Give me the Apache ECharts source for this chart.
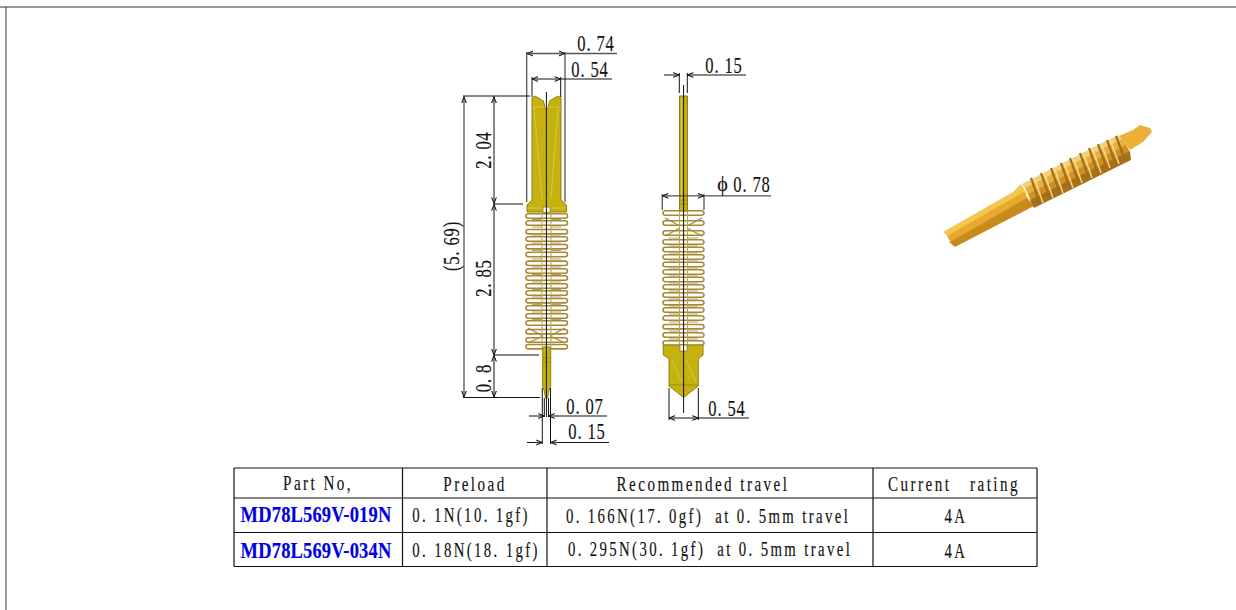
<!DOCTYPE html>
<html><head><meta charset="utf-8">
<style>
html,body{margin:0;padding:0;background:#fff;overflow:hidden}
#c{width:1236px;height:610px}
svg text{letter-spacing:2.6px}
svg text[style*="23px"]{letter-spacing:1.2px}
svg text[style*="21px"]{letter-spacing:3.4px}
svg text[style*="20px"]{letter-spacing:3.2px}
svg text[style*="bold"]{letter-spacing:.2px}
</style>
<script src="https://cdn.jsdelivr.net/npm/echarts@6/dist/echarts.min.js"></script>
</head><body><div id="c"></div>
<script>
// Drawing values, in picture units.
const frameLines=[[[0,7],[1236,7]],[[6,7],[6,610]]];
const tableColumns=[234,402.5,547,873,1037];
const tableRows=[468,498,532.5,566.5];
const tableHeader=['Part\u00a0No,','Preload','Recommended travel','Current\u00a0\u00a0\u00a0rating'];
const partNumbers=['MD78L569V-019N','MD78L569V-034N'];
const preloads=['0. 1N(10. 1gf)','0. 18N(18. 1gf)'];
const travels=['0. 166N(17. 0gf)\u00a0\u00a0at 0. 5mm travel','0. 295N(30. 1gf)\u00a0\u00a0at 0. 5mm travel'];
const ratings=['4A','4A'];
const dimBlack=[
 [[532,77],[532,97]],[[560.7,77],[560.7,97]],[[532,79],[612,79]],
 [[494,96],[494,397]],[[463,96],[530,96]],[[494,204],[523,204]],[[494,355],[539,355]],[[463,397.5],[540,397.5]],
 [[544.3,398],[544.3,417]],[[548.5,398],[548.5,417]],[[529,416],[544,416]],[[548.5,416],[607,416]],
 [[542.3,388],[542.3,444]],[[550.5,388],[550.5,444]],[[527,442.5],[542,442.5]],[[550.5,442.5],[609,442.5]],
 [[546.4,92],[546.4,417]],
 [[664,75],[679.3,75]],[[687.3,75],[746,75]],[[679.3,73],[679.3,93]],[[687.3,73],[687.3,93]],
 [[683.6,85],[683.6,413]],
 [[669,388],[669,420]],[[698.3,388],[698.3,420]],[[669,418],[749,418]]
];
const dimGray=[
 [[526.7,52],[526.7,202]],[[565,52],[565,202]],[[527,53.5],[617,53.5]],
 [[464,96],[464,397]],
 [[662.3,194],[662.3,210]],[[704,194],[704,210]],[[662,195.8],[771,195.8]]
];
const arrows=[
 [527,53.5,1],[565,53.5,-1],[532,79,1],[560.7,79,-1],
 [464,97,2],[464,397,-2],[494,97,2],[494,203.5,-2],[494,204.5,2],[494,355,-2],[494,355.5,2],[494,397,-2],
 [544.3,416,-1],[548.5,416,1],[542.3,442.5,-1],[550.5,442.5,1],
 [679.3,75,-1],[687.3,75,1],[662.3,195.8,1],[704,195.8,-1],[669,418,1],[698.3,418,-1]
];
const goldBodies=[
 [[532,98],[535,96],[543.5,101],[545,108],[546.5,109.5],[548,108],[549.5,101],[558,96],[561,98],[561,200],[566.5,205],[566.5,212],[527,212],[527,205],[532,200]],
 [[542.7,347],[550.7,347],[550.7,386],[548.5,392],[547.5,398],[545.5,398],[544.5,392],[542.7,386]],
 [[679.5,96],[687.5,96],[687.5,211],[679.5,211]],
 [[663.3,345],[703,345],[703,355],[698.3,358.5],[698.3,386],[683.6,397.5],[669,386],[669,358.5],[663.3,355]]
];
const goldNotches=[[[543,212.5],[543,207],[550,207],[550,212.5]],[[680,345],[680,351],[687,351],[687,345]]];
const goldDetailLines=[
 [[542.7,358],[550.7,358]],[[542.7,362],[550.7,362]],[[669,385],[698.3,385]],[[679.5,200],[687.5,200]],[[679.5,204],[687.5,204]]
];
const goldHighlights=[
 [[532.5,107],[561,107]],[[528,208],[542,208]],[[551,208],[566,208]],
 [[534,108],[542,198]],[[558,108],[551,198]],[[672,360],[682,382]],[[686,360],[696,382]],[[681.5,98],[681.5,200]]
];
const leftCoilRows=[216,223,231.7,239,246.7,254.5,263.3,271,278,286,293,300.7,308,316,323,331.7,340,346.7];
const rightCoilRows=[213,223,233,242,249.5,257,264.5,272,279.5,287,295,302.7,310,318,326.7,335,343];
const leftCoilX=[526,567.5];
const rightCoilX=[663,704];
const leftRungRows=[219.5,227,235,243,250.5,259,267,274.5,282,289.5,297,304.5,312,319.5];
const rightRungRows=[238,246,253,261,268,276,283,291,299,306,314,322,331,339];
const coilDiagonals=[
 [[528,328],[543,336]],[[550,336],[565,328]],
 [[528,343],[543,336]],[[550,336],[565,343]],
 [[665,218],[680,226]],[[687,226],[702,218]],
 [[665,236],[680,228]],[[687,228],[702,236]]
];
const coilShaftLines=[
 [[542,213],[542,347]],[[551,213],[551,347]],[[679.5,211],[679.5,345]],[[687.5,211],[687.5,345]]
];
const photoShaftBands=[
 [[943,232],[1013,192],[1021,184],[1027,194],[950,238]],
 [[947,236],[1024,192],[1029,200],[951,243]],
 [[950,242],[1027,198],[1034,206],[955,247],[948,241]]
];
const photoBodyBands=[
 [[1022,184],[1118,135],[1122,140],[1026,190]],
 [[1025,188],[1122,139],[1127,146],[1029,196]],
 [[1028,194],[1126,145],[1130,152],[1031,202]],
 [[1030,200],[1130,151],[1131,160],[1034,208]]
];
const photoHead=[[1119,136],[1133,130],[1140,125],[1150,128],[1152,132],[1143,142],[1130,150],[1124,142]];
const photoRibs=[
 [[1031,178],[1040,204]],[[1041,173],[1050,199]],[[1051,168],[1060,194]],[[1061,163],[1070,189]],[[1070,158],[1079,184]],
 [[1080,153],[1089,179]],[[1089,148],[1098,174]],[[1098,144],[1107,169]],[[1107,140],[1116,165]],[[1116,136],[1125,160]]
];
const photoRibLights=[
 [[1034,177],[1043,203]],[[1044,172],[1053,198]],[[1054,167],[1063,193]],[[1064,162],[1073,188]],[[1073,157],[1082,183]],
 [[1083,152],[1092,178]],[[1092,147],[1101,173]],[[1101,143],[1110,168]],[[1110,139],[1119,164]]
];
const dimLabels=[
 ['0. 74',596,43,0],['0. 54',590,69,0],['2. 04',483,150,90],['2. 85',483,278,90],['0. 8',483,378,90],
 ['(5. 69)',451,246,90],['0. 07',585,406,0],['0. 15',587,431,0],['0. 15',724,65,0],['0. 78',752,184,0],['0. 54',727,408,0]
];
const phiLabel=['\u03d5',724,184,0];

const ink='#111', gray='#555', gold='#c6b20f', goldEdge='#8f7f12', coil='#a4893a';
const rungs=(rows,a,b,c,d)=>rows.flatMap(y=>[[[a,y],[b,y]],[[c,y],[d,y]]]);
const coilBars=[...rungs(leftRungRows,532,542,551,561),...rungs(rightRungRows,669,679.5,687.5,698)];
function base(renderItem,data,z){return {type:'custom',coordinateSystem:'cartesian2d',renderItem,data:data.map((_,i)=>[i]),clip:false,silent:true,z:z,animation:false};}
const lineSeries=(arr,color,w,z,cap)=>base((p,api)=>{
  const pts=arr[p.dataIndex].map(q=>api.coord(q));
  return {type:'polyline',shape:{points:pts},style:{stroke:color,lineWidth:w,fill:null,lineCap:cap||'butt'}};
},arr,z);
const polySeries=(arr,fill,stroke,w,z)=>base((p,api)=>{
  const pts=arr[p.dataIndex].map(q=>api.coord(q));
  return {type:'polygon',shape:{points:pts},style:{fill:fill,stroke:stroke,lineWidth:w}};
},arr,z);
const coilSeries=(rows,xs,z)=>base((p,api)=>{
  const a=api.coord([xs[0],rows[p.dataIndex]-2.2]),b=api.coord([xs[1],rows[p.dataIndex]+2.2]);
  return {type:'rect',shape:{x:a[0],y:a[1],width:b[0]-a[0],height:b[1]-a[1],r:2.2},style:{fill:'#fffdf4',stroke:coil,lineWidth:1.6}};
},rows,z);
const arrowSeries=base((p,api)=>{
  const [x,y,d]=arrows[p.dataIndex];const c=api.coord([x,y]);const L=6,W=2.4;
  const s=d>0?1:-1;
  const pts=Math.abs(d)===1?[[c[0]+s*L,c[1]-W],[c[0],c[1]],[c[0]+s*L,c[1]+W]]:[[c[0]-W,c[1]+s*L],[c[0],c[1]],[c[0]+W,c[1]+s*L]];
  return {type:'polyline',shape:{points:pts},style:{stroke:ink,lineWidth:1,fill:'rgba(120,120,120,.45)'}};
},arrows,9);
function textSeries(arr,size,color,weight,sx,sy,z){return base((p,api)=>{
  const t=arr[p.dataIndex];const c=api.coord([t[1],t[2]]);
  return {type:'text',x:c[0],y:c[1],rotation:(t[3]||0)*Math.PI/180,scaleX:sx,scaleY:sy,
    style:{x:0,y:0,text:t[0],fill:color,stroke:color,lineWidth:.15,align:'center',verticalAlign:'middle',font:weight+' '+size+'px "Liberation Serif"'}};
},arr,z);}

const tableLines=[
 ...tableColumns.map(x=>[[x,tableRows[0]],[x,tableRows[3]]]),
 ...tableRows.map(y=>[[tableColumns[0],y],[tableColumns[4],y]])
];
const headerText=[[tableHeader[0],318,483],[tableHeader[1],475,484],[tableHeader[2],703,484],[tableHeader[3],954,484]];
const rowText=[
 [preloads[0],471,515],[preloads[1],476,550],[travels[0],708,516],[travels[1],710,549],[ratings[0],956,516],[ratings[1],956,551]
];
const partText=[[partNumbers[0],316,514],[partNumbers[1],316,550]];

const chart=echarts.init(document.getElementById('c'),null,{renderer:'svg',width:1236,height:610});
chart.setOption({
 animation:false,
 grid:{left:0,right:0,top:0,bottom:0},
 xAxis:{type:'value',min:0,max:1236,show:false},
 yAxis:{type:'value',min:0,max:610,inverse:true,show:false},
 series:[
  lineSeries(frameLines,'#333',1,1),
  polySeries([photoShaftBands[0]],'#f2c650',null,0,2),
  polySeries([photoShaftBands[1]],'#e8a92e',null,0,2),
  polySeries([photoShaftBands[2]],'#c98a1c',null,0,2),
  polySeries([photoBodyBands[0]],'#efcf7a',null,0,2),
  polySeries([photoBodyBands[1]],'#e6b040',null,0,2),
  polySeries([photoBodyBands[2]],'#cf8f22',null,0,2),
  polySeries([photoBodyBands[3]],'#a9701a',null,0,2),
  polySeries([photoHead],'#e9b138',null,0,2),
  lineSeries(photoRibs,'#a56c18',2.2,3),
  lineSeries(photoRibLights,'#f6dc8e',1.4,3),
  coilSeries(leftCoilRows,leftCoilX,4),
  coilSeries(rightCoilRows,rightCoilX,4),
  lineSeries(coilBars,'#b7a25c',1,5),
  lineSeries(coilDiagonals,coil,1.3,5),
  lineSeries(coilShaftLines,'#b7a25c',1,5),
  polySeries(goldBodies,gold,goldEdge,1,6),
  polySeries(goldNotches,'#fff',goldEdge,.8,7),
  lineSeries(goldHighlights,'#dccf60',.7,7),
  lineSeries(goldDetailLines,goldEdge,.7,7),
  lineSeries(dimGray,gray,1.3,8),
  lineSeries(dimBlack,ink,1,8),
  arrowSeries,
  lineSeries(tableLines,'#111',1.2,8),
  textSeries(dimLabels,23,'#111','normal',.72,1,10),
  textSeries([phiLabel],20,'#111','normal',1,1,10),
  textSeries(headerText,21,'#111','normal',.72,1,10),
  textSeries(rowText,20,'#111','normal',.74,1,10),
  textSeries(partText,22,'#0000e6','bold',.84,1.05,10)
 ]
});
</script></body></html>
